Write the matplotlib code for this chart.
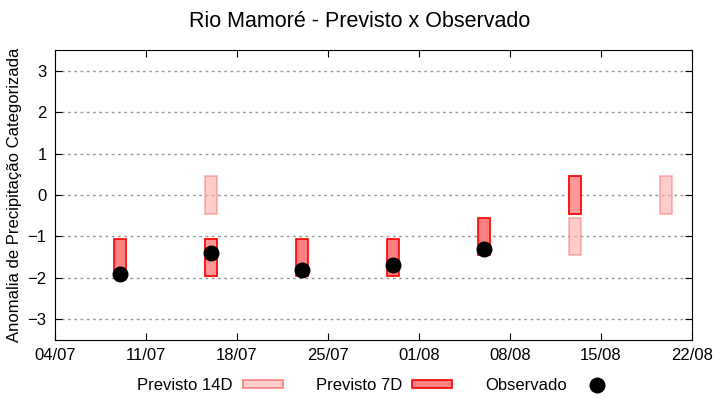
import numpy as np
import matplotlib.pyplot as plt
from matplotlib.patches import Patch
from matplotlib.lines import Line2D
from datetime import datetime

plt.rcParams['font.family'] = ['Liberation Sans', 'DejaVu Sans']

# datas (dd/mm) das previsoes / observacoes
datas_7d = ['09/07', '16/07', '23/07', '30/07', '06/08', '13/08']
prev_7d = [-1.5, -1.5, -1.5, -1.5, -1.0, 0.0]

datas_14d = ['16/07', '16/07', '13/08', '13/08', '20/08']
prev_14d = [0.0, -1.5, -1.0, 0.0, 0.0]

datas_obs = ['09/07', '16/07', '23/07', '30/07', '06/08']
obs = [-1.9, -1.4, -1.8, -1.7, -1.3]

ticks_x = ['04/07', '11/07', '18/07', '25/07', '01/08', '08/08', '15/08', '22/08']

def conv(lista):
    return [datetime.strptime(d + '/2023', '%d/%m/%Y') for d in lista]

larg = 0.95     # largura da barra (dias)
meia = 0.45     # meia altura da categoria

fig = plt.figure(figsize=(7.2, 4.0), dpi=100)
ax = fig.add_axes([55/720, 60/400, 637/720, 290/400])

x7 = conv(datas_7d)
x14 = conv(datas_14d)
xo = conv(datas_obs)
b7 = [v - meia for v in prev_7d]
b14 = [v - meia for v in prev_14d]

# preenchimento 7D
ax.bar(x7, 2*meia, bottom=b7, width=larg, color='#ff8080', linewidth=0, zorder=2)
# 14D por cima com transparencia
ax.bar(x14, 2*meia, bottom=b14, width=larg, color='#ffaaaa', alpha=0.6,
       edgecolor='#f08080', linewidth=1.2, zorder=3)
# contorno 7D
ax.bar(x7, 2*meia, bottom=b7, width=larg, fill=False, edgecolor='red',
       linewidth=1.2, zorder=4)
# observado
ax.plot(xo, obs, 'o', color='black', markersize=10.5, zorder=5)

ax.set_xlim(conv(['04/07'])[0], conv(['22/08'])[0])
ax.set_ylim(-3.5, 3.5)
ax.set_xticks(conv(ticks_x))
ax.set_xticklabels(ticks_x)
ax.set_yticks(np.arange(-3, 4, 1))
ax.tick_params(direction='in', top=True, right=True, labelsize=12, length=5, pad=6)
ax.yaxis.grid(True, linestyle=(0, (2, 2.5)), color='#999999', linewidth=1)
ax.set_axisbelow(True)
ax.set_ylabel('Anomalia de Precipitação Categorizada', fontsize=12)

fig.suptitle('Rio Mamoré - Previsto x Observado', fontsize=15.5, y=0.972)

handles = [Patch(facecolor='#ffcccc', edgecolor='#f08080', linewidth=1.2),
           Patch(facecolor='#ff8080', edgecolor='red', linewidth=1.2),
           Line2D([], [], marker='o', color='black', linestyle='None', markersize=10.5)]
fig.legend(handles, ['Previsto 14D', 'Previsto 7D', 'Observado'],
           loc='center', bbox_to_anchor=(0.524, 0.037), ncol=3, frameon=False,
           markerfirst=False, fontsize=12, handlelength=2.4, handleheight=0.4,
           handletextpad=0.6, columnspacing=2.0)

plt.savefig('out.png', dpi=100)
